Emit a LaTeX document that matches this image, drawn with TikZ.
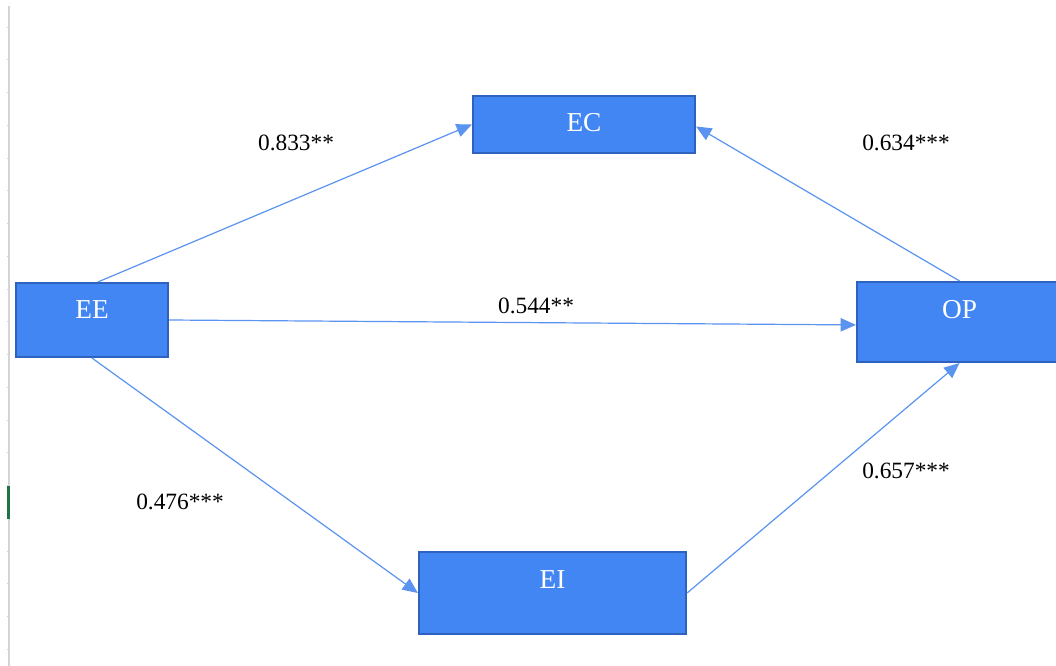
\documentclass[tikz,border=0pt]{standalone}
\usepackage{fontspec}
\setmainfont{Liberation Serif}
\usetikzlibrary{arrows.meta}
\definecolor{boxfill}{HTML}{4286F4}
\definecolor{boxline}{HTML}{2F62BE}
\definecolor{pathline}{HTML}{5A93F0}
\definecolor{gridline}{HTML}{D4D4D4}
\definecolor{selmark}{HTML}{217346}

\begin{document}
\begin{tikzpicture}[x=0.75pt,y=-0.75pt,
    varbox/.style={draw=boxline,fill=boxfill,line width=1.6pt,inner sep=0pt},
    boxtext/.style={text=white,font=\fontsize{20.5}{24}\selectfont,inner sep=0pt},
    coef/.style={font=\fontsize{17.5}{21}\selectfont,inner sep=0pt},
    path/.style={draw=pathline,line width=0.9pt,-{Triangle[length=11.5pt,width=10pt]}}]
        \useasboundingbox[fill=white] (0,0) rectangle (1056,666);
        % sheet edge on the left
        \begin{scope}
          \draw[gridline,line width=2pt] (9,6) -- (9,666);
          \foreach \k in {0,...,19}
            \draw[gridline,line width=0.6pt] (7,27+32.75*\k) -- (10,27+32.75*\k);
          \draw[selmark,line width=2.2pt] (8.5,486) -- (8.5,519);
        \end{scope}
        % variables
        \node[varbox,minimum width=114pt,minimum height=55.5pt,
          label={[name=EE-text,boxtext,yshift=7.9pt]center:EE}] (EE) at (92,320) {};
        \node[varbox,minimum width=166.5pt,minimum height=42.75pt,
          label={[name=EC-text,boxtext,yshift=1.5pt]center:EC}] (EC) at (584,124.5) {};
        \node[varbox,minimum width=153.75pt,minimum height=60pt,
          label={[name=OP-text,boxtext,yshift=9.4pt]center:OP}] (OP) at (959.5,322) {};
        \node[varbox,minimum width=200.25pt,minimum height=61.5pt,
          label={[name=EI-text,boxtext,yshift=10.1pt]center:EI}] (EI) at (552.5,593) {};
        % paths
        \draw[path] ([xshift=4.5pt]EE.north) -- (EC.west);
        \draw[path] (OP.north) -- ([yshift=-1.5pt]EC.east);
        \draw[path] (EE.east) -- ([yshift=-2.2pt]OP.west);
        \draw[path] (EE.south) -- (EI.west);
        \draw[path] (EI.east) -- (OP.south);
        % coefficients
        \node[coef] (c-EE-EC) at (296,143) {0.833**};
        \node[coef] (c-OP-EC) at (906,143) {0.634***};
        \node[coef] (c-EE-OP) at (536,306) {0.544**};
        \node[coef] (c-EE-EI) at (180,502) {0.476***};
        \node[coef] (c-EI-OP) at (906,471) {0.657***};
      \end{tikzpicture}
\end{document}
